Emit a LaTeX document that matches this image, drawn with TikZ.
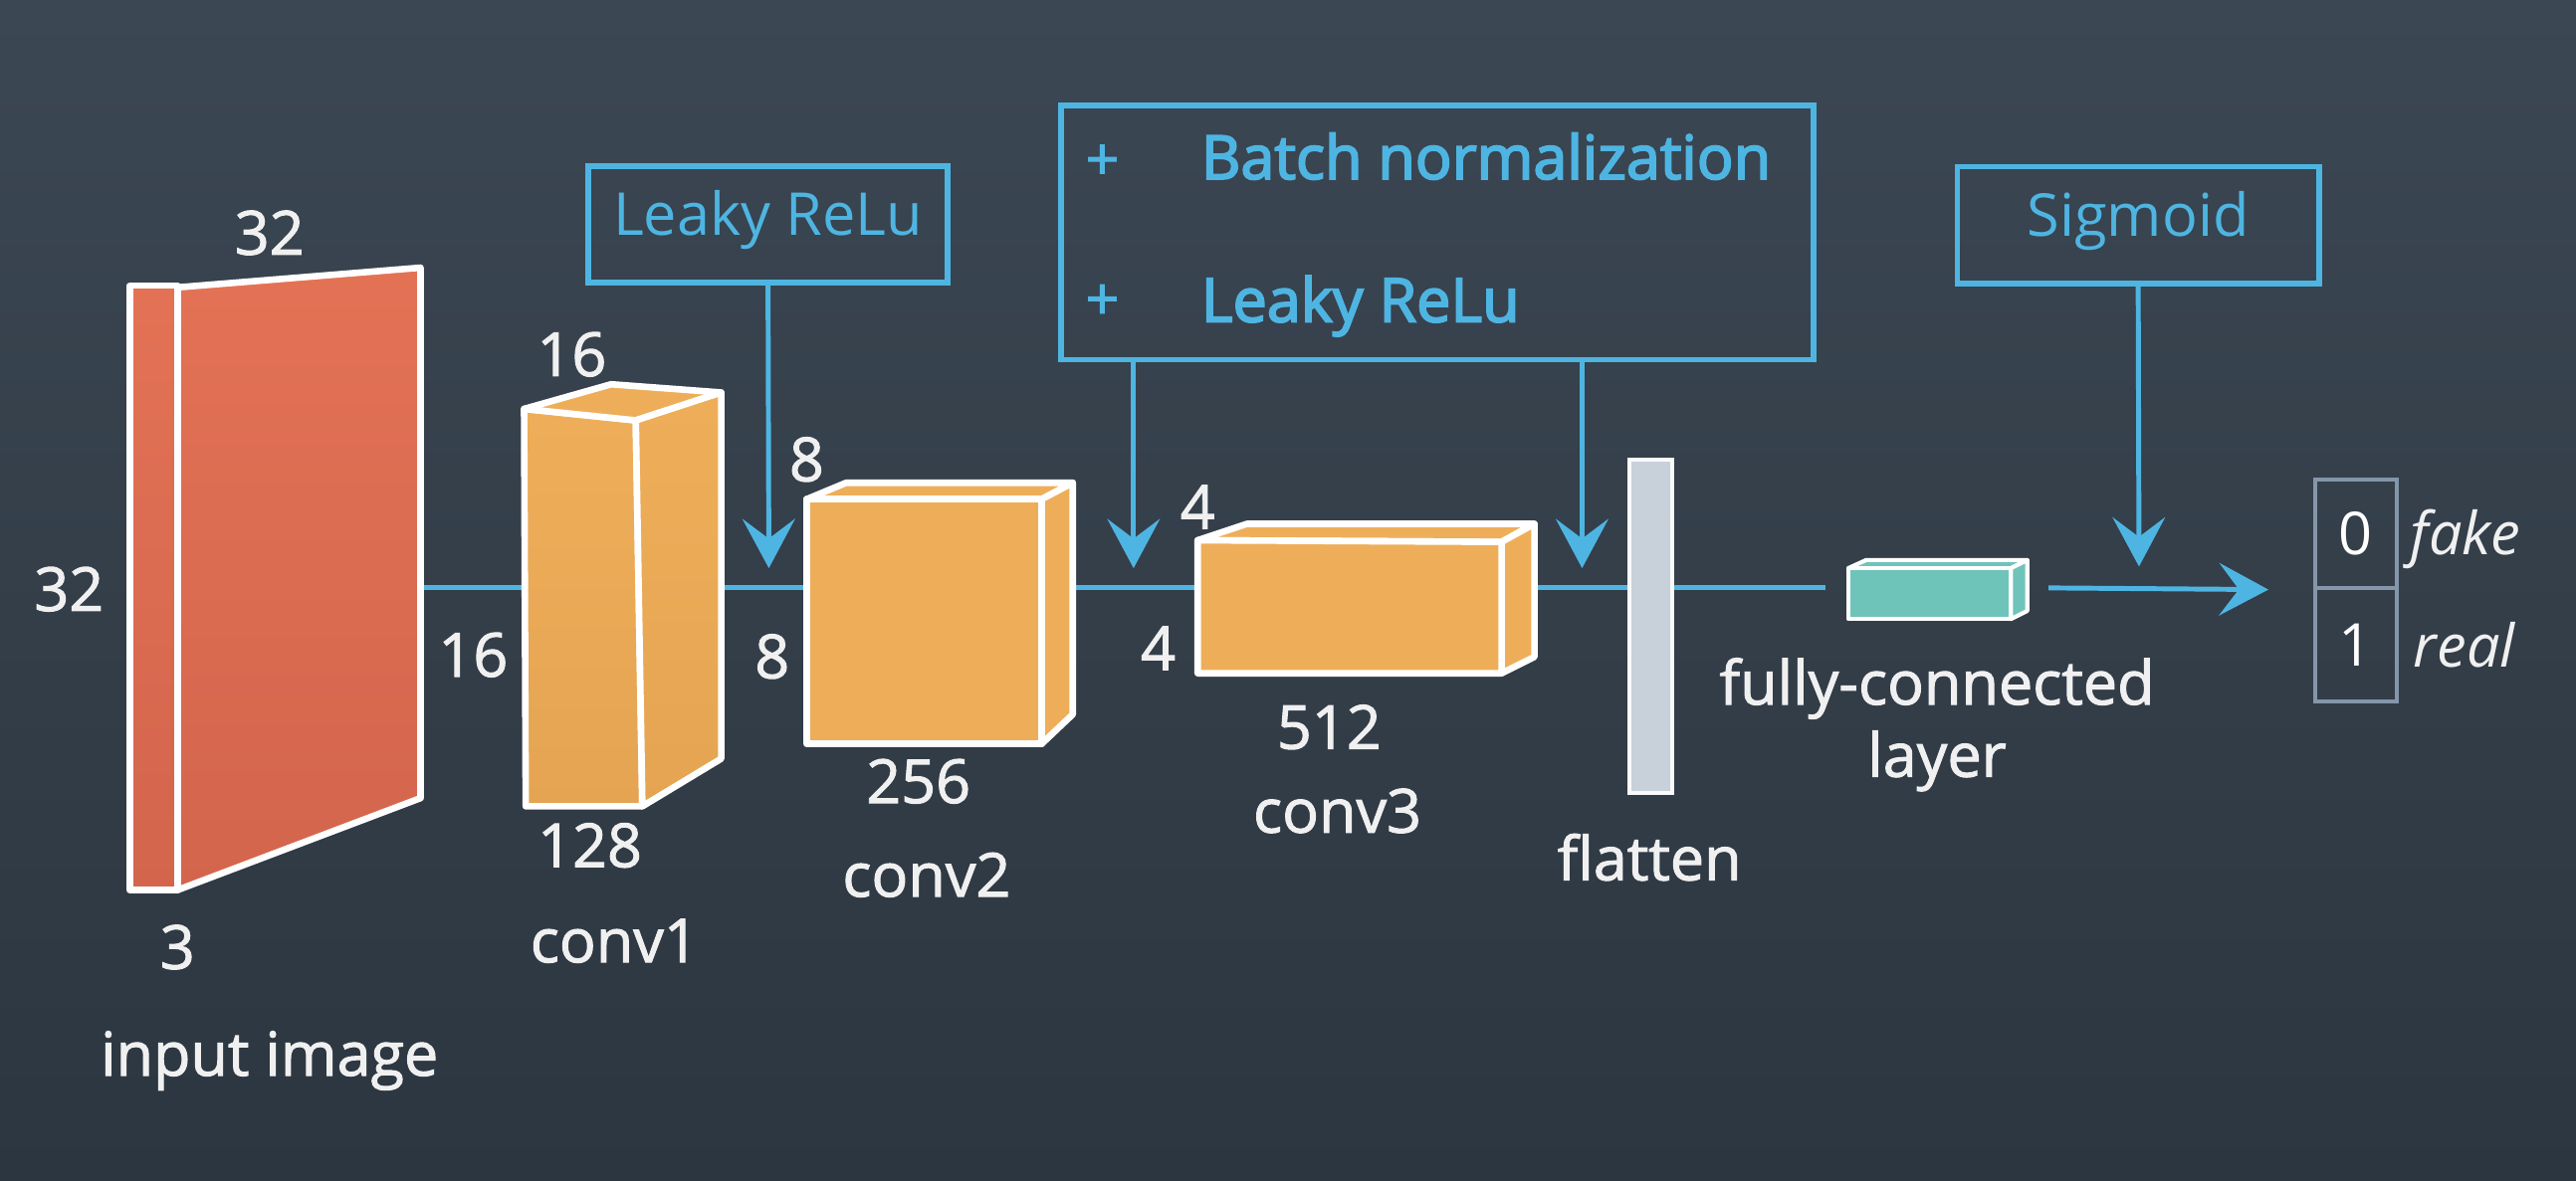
\documentclass[tikz,border=0pt]{standalone}
\usepackage{fontspec}
\setmainfont{Open Sans}
\newfontfamily\semifont{Open Sans}[FakeBold=1.6]
\newfontfamily\semibfont{Open Sans}[FakeBold=3]
\usetikzlibrary{arrows.meta}
\definecolor{bgtop}{RGB}{59,71,83}
\definecolor{bgbot}{RGB}{44,54,64}
\definecolor{cblue}{RGB}{78,181,226}
\definecolor{inred}{RGB}{227,114,85}
\definecolor{inredd}{RGB}{211,101,77}
\definecolor{convo}{RGB}{238,174,89}
\definecolor{convod}{RGB}{228,164,82}
\definecolor{tealc}{RGB}{111,196,186}
\definecolor{flatc}{RGB}{200,208,218}
\definecolor{outb}{RGB}{132,150,170}
\definecolor{lblc}{RGB}{240,240,240}
\tikzset{
  conn/.style={draw=cblue, line width=3pt},
  tip/.style={-{Stealth[length=30pt,width=32pt,inset=12pt]}},
  blk/.style={draw=white, line width=4pt, line join=round},
  cbox/.style={draw=cblue, line width=3.5pt, text=cblue, font=\fontsize{36}{40}\selectfont, inner sep=0pt},
  lbl/.style={text=lblc, anchor=base, font=\fontsize{37}{42}\semifont, inner sep=0pt},
  btxt/.style={text=cblue, anchor=base west, font=\fontsize{37}{40}\semibfont, inner sep=0pt},
  outcell/.style={draw=outb, line width=2.5pt, minimum width=50pt, text=white, font=\fontsize{36}{40}\selectfont, inner sep=0pt},
}
\begin{document}
\begin{tikzpicture}[x=1pt,y=-1pt]
\fill[top color=bgtop,bottom color=bgbot] (0,0) rectangle (1568,719);
\useasboundingbox (0,0) rectangle (1568,719);

% main line
\coordinate (l0) at (256,358);
\coordinate (l1) at (1111,358);
\draw[conn] (l0) -- (l1);

% input image
\draw[blk, top color=inred, bottom color=inredd] (108,175) -- (256,163) -- (256,486) -- (108,542) -- cycle;
\draw[blk, top color=inred, bottom color=inredd] (79,174) rectangle (108,542);

% conv1
\draw[blk, top color=convo, bottom color=convod] (319,249) -- (387,256) -- (391,491) -- (320,491) -- cycle;
\draw[blk, fill=convo] (319,249) -- (372,234) -- (439,239) -- (387,256) -- cycle;
\draw[blk, top color=convo, bottom color=convod] (387,256) -- (439,239) -- (439,462) -- (391,491) -- cycle;

% conv2
\draw[blk, fill=convo] (491,304) -- (515,294) -- (653,294) -- (634,304) -- cycle;
\draw[blk, fill=convo] (634,304) -- (653,294) -- (653,435) -- (634,453) -- cycle;
\draw[blk, fill=convo] (491,304) rectangle (634,453);

% conv3
\draw[blk, fill=convo] (729,329) -- (759,319) -- (934,319) -- (914,330) -- cycle;
\draw[blk, fill=convo] (914,330) -- (934,319) -- (934,400) -- (914,410) -- cycle;
\draw[blk, fill=convo] (729,329) -- (914,330) -- (914,410) -- (729,410) -- cycle;

% flatten
\draw[draw=white!90!flatc, line width=2.5pt, fill=flatc] (992,280) rectangle (1018,483);

% fully connected
\draw[draw=white, line width=2.5pt, line join=round, fill=tealc] (1125,346) -- (1136,341) -- (1234,341) -- (1224,346) -- cycle;
\draw[draw=white, line width=2.5pt, line join=round, fill=tealc] (1224,346) -- (1234,341) -- (1234,372) -- (1224,377) -- cycle;
\draw[draw=white, line width=2.5pt, line join=round, fill=tealc] (1125,346) rectangle (1224,377);

% output
\node[outcell, minimum height=66pt] (o0) at (1434,325) {0};
\node[outcell, minimum height=69pt] (o1) at (1434,392.5) {1};
\node[text=lblc, anchor=base west, inner sep=0pt, font=\fontsize{36}{40}\selectfont\itshape] (fk) at (1467,338) {fake};
\node[text=lblc, anchor=base west, inner sep=0pt, font=\fontsize{36}{40}\selectfont\itshape] (rl) at (1469,406) {real};

\coordinate (a0) at (1247,358);
\draw[conn, tip, shorten >=27pt] (a0) -- (o0.south west);

% boxes
\node[cbox, minimum width=219pt, minimum height=71pt] (lk) at (467.5,136.5) {};
\node[text=cblue, anchor=base, inner sep=0pt, font=\fontsize{36}{40}\selectfont] (lkt) at (467.5,143) {Leaky ReLu};
\node[cbox, minimum width=458pt, minimum height=155pt] (bn) at (875,141.5) {};
\node[text=cblue, inner sep=0pt, font=\fontsize{36}{40}\semifont] (p1) at (671,99) {+};
\node[text=cblue, inner sep=0pt, font=\fontsize{36}{40}\semifont] (p2) at (671,184) {+};
\node[btxt] (bt1) at (731,109) {Batch normalization};
\node[btxt] (bt2) at (731,196) {Leaky ReLu};
\node[cbox, minimum width=220pt, minimum height=71pt] (sg) at (1301.5,137) {};
\node[text=cblue, anchor=base, inner sep=0pt, font=\fontsize{36}{40}\selectfont] (sgt) at (1301.5,144) {Sigmoid};

\coordinate (t1) at (468,346);
\coordinate (t2) at (690,346);
\coordinate (t3) at (963,346);
\coordinate (t4) at (1302,345);
\draw[conn, tip] (lk.south) -- (t1);
\draw[conn, tip] (bn.south -| t2) -- (t2);
\draw[conn, tip] (bn.south -| t3) -- (t3);
\draw[conn, tip] (sg.south) -- (t4);

% labels
\node[lbl] (n32a) at (164,155) {32};
\node[lbl] (n32b) at (42,372) {32};
\node[lbl] (n3) at (108,590) {3};
\node[lbl] (nin) at (164,655) {input image};
\node[lbl] (n16a) at (288,412) {16};
\node[lbl] (n16b) at (348,229) {16};
\node[lbl] (n128) at (359,528) {128};
\node[lbl] (nc1) at (374,586) {conv1};
\node[lbl] (n8a) at (491,293) {8};
\node[lbl] (n8b) at (470,413) {8};
\node[lbl] (n256) at (559,489) {256};
\node[lbl] (nc2) at (564,546) {conv2};
\node[lbl] (n4a) at (729,322) {4};
\node[lbl] (n4b) at (705,408) {4};
\node[lbl] (n512) at (809,456) {512};
\node[lbl] (nc3) at (814,507) {conv3};
\node[lbl] (nfl) at (1004,536) {flatten};
\node[lbl] (nfc) at (1179,429) {fully-connected};
\node[lbl] (nly) at (1179,473) {layer};
\end{tikzpicture}
\end{document}
